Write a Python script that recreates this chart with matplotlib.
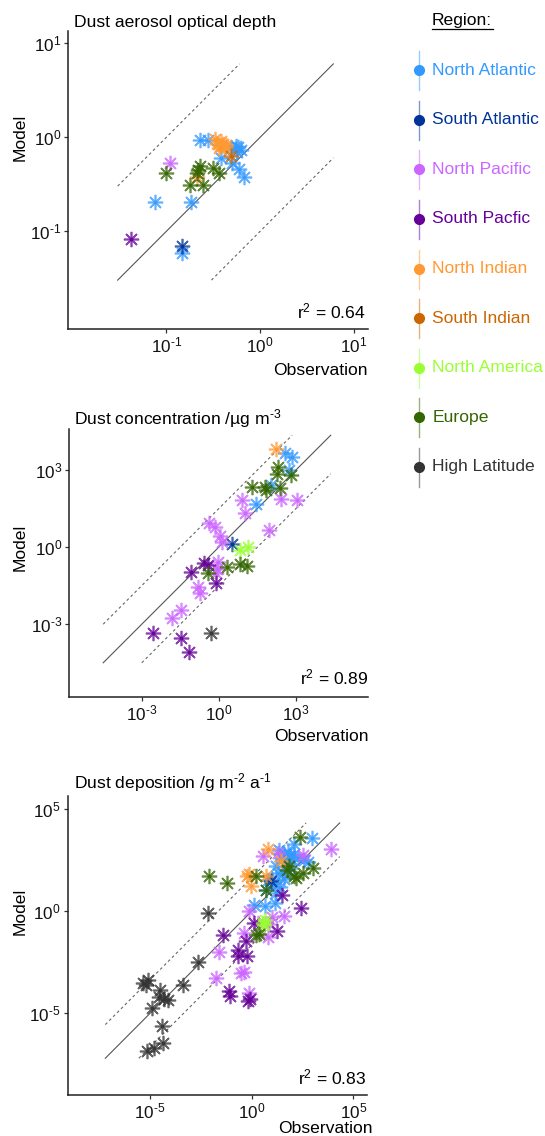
import numpy as np
import matplotlib
matplotlib.use("Agg")
import matplotlib.pyplot as plt

plt.rcParams['font.family'] = ['Liberation Sans', 'DejaVu Sans']
plt.rcParams['mathtext.fontset'] = 'custom'
plt.rcParams['mathtext.rm'] = 'Liberation Sans'
plt.rcParams['mathtext.it'] = 'Liberation Sans:italic'
plt.rcParams['mathtext.default'] = 'regular'

# ---------------- data (log10 of observation / model) ----------------
region_names = ["North Atlantic", "South Atlantic", "North Pacific", "South Pacfic",
                "North Indian", "South Indian", "North America", "Europe", "High Latitude"]
region_colors = ["#3399FF", "#003399", "#CC66FF", "#660099",
                 "#FF9933", "#CC6600", "#99FF33", "#336600", "#333333"]

# Panel 1: dust aerosol optical depth
aod_region = (["North Atlantic"] * 14 + ["South Atlantic"] + ["North Pacific"] + ["South Pacfic"]
              + ["North Indian"] * 9 + ["South Indian"] + ["Europe"] * 8)
aod_obs_log = [-0.83, -1.124, -0.741, -0.641, -0.562, -0.313, -0.262, -0.251, -0.417, -0.297,
               -0.228, -0.176, -0.21, -0.24,
               -0.83, -0.962, -1.383,
               -0.48, -0.45, -0.43, -0.40, -0.38, -0.42, -0.44, -0.36, -0.675,
               -0.31,
               -1.003, -0.641, -0.675, -0.66, -0.504, -0.441, -0.745, -0.607]
aod_mod_log = [-1.234, -0.685, -0.685, -0.031, -0.031, -0.10, -0.09, -0.152, -0.22, -0.272,
               -0.34, -0.427, -0.14, -0.10,
               -1.155, -0.278, -1.087,
               -0.02, -0.07, -0.09, -0.07, -0.10, -0.04, -0.11, -0.08, -0.427,
               -0.20,
               -0.381, -0.306, -0.381, -0.35, -0.324, -0.381, -0.512, -0.512]

# Panel 2: dust concentration
conc_region = (["North Atlantic"] * 5 + ["South Atlantic"] + ["North Pacific"] * 16
               + ["South Pacfic"] * 7 + ["North Indian"] + ["North America"] * 2
               + ["Europe"] * 11 + ["High Latitude"])
conc_obs_log = [2.56, 2.86, 2.72, 2.01, 1.43,
                0.52,
                0.91, 2.43, 3.02, 1.01, 1.95, -0.39, -0.17, 0.04, 0.13, -0.04, -0.13, -0.82,
                -0.74, -1.46, -1.81, -0.06,
                -1.10, -0.58, -0.43, -0.10, -2.55, -1.46, -1.17,
                2.21,
                0.84, 1.13,
                2.30, 2.27, 2.79, 1.30, 1.78, 1.83, 2.37, -0.43, 0.30, 0.81, 1.08,
                -0.32]
conc_mod_log = [3.65, 3.49, 3.00, 2.41, 1.67,
                0.12,
                1.83, 1.86, 1.83, 1.34, 0.66, 0.92, 0.79, 0.43, 0.21, -0.57, -1.02, -1.57,
                -1.78, -2.43, -2.74, -0.85,
                -0.96, -0.63, -0.70, -1.41, -3.36, -3.55, -4.07,
                3.80,
                -0.12, 0.01,
                3.10, 2.84, 2.80, 2.32, 2.32, 2.22, 2.28, -1.02, -0.77, -0.66, -0.74,
                -3.33]

# Panel 3: dust deposition
dep_region = (["North Atlantic"] * 27 + ["South Atlantic"] + ["North Pacific"] * 16
              + ["South Pacfic"] * 13 + ["North Indian"] * 6 + ["North America"] * 3
              + ["Europe"] * 13 + ["High Latitude"] * 15)
dep_obs_log = [1.36, 2.07, 2.96, 1.6, 1.8, 1.9, 2.1, 2.3, 2.59, 2.75, 1.5, 1.7, 1.2, 1.3,
               1.0, 0.79, 1.1, 1.4, 1.6, 1.9, 0.70, 0.13, 0.65, 1.15, 1.2, 1.55, 2.0,
               0.95,
               0.54, 1.31, 2.51, 3.91, -0.12, 1.0, 1.61, 0.79, -0.36, -1.60, -0.53, -0.40,
               -1.76, -0.12, 0.3, 0.85,
               1.48, 2.43, 0.13, 1.23, -1.43, -0.30, -0.69, -0.69, -0.23, -1.10, -1.05,
               -0.2, -0.1,
               0.79, -0.12, -0.22, -0.05, 1.46, 0.72,
               0.54, 0.66, 0.6,
               -2.09, -1.20, 0.21, 0.70, 2.38, 3.0, 2.10, 1.72, 2.18, 1.85, 2.55, 0.21, 0.36,
               -2.17, -2.66, -3.40, -5.37, -5.12, -5.21, -4.50, -4.55, -4.31, -4.14, -4.88,
               -4.43, -4.38, -4.80, -5.16]
dep_mod_log = [3.02, 3.32, 3.6, 2.8, 2.9, 2.7, 2.8, 2.6, 2.53, 2.4, 2.6, 2.4, 2.2, 1.9,
               1.6, 1.55, 1.4, 1.2, 1.6, 2.1, 1.03, 0.30, 0.25, 0.41, 0.9, 1.9, 2.5,
               1.5,
               2.70, 2.86, 2.78, 3.06, 0.0, -0.28, -0.25, -1.25, -1.06, -1.98, -3.02, -2.95,
               -3.27, -4.0, -0.55, -0.6,
               0.82, 0.17, -0.57, -0.95, -1.14, -1.45, -1.88, -2.2, -2.2, -3.92, -4.17,
               -4.41, -4.3,
               3.06, 1.82, 1.75, 1.23, 2.45, 1.75,
               -0.57, -0.45, -0.68,
               1.75, 1.40, 1.74, 1.06, 3.62, 2.13, 1.75, 2.04, 1.64, 2.2, 1.9, -1.14, -1.10,
               -0.08, -2.47, -3.59, -3.51, -3.35, -3.59, -3.84, -4.20, -4.29, -4.33, -4.74,
               -5.64, -6.45, -6.70, -6.86]

r2_values = [0.64, 0.89, 0.83]
panel_titles = ["Dust aerosol optical depth",
                "Dust concentration /\u00b5g m$^{\\text{-3}}$",
                "Dust deposition /g m$^{\\text{-2}}$ a$^{\\text{-1}}$"]
tick_exponents = [[-1, 0, 1], [-3, 0, 3], [-5, 0, 5]]
# 1:1 reference line range (log10) and width of the band (decades)
ref_line_range = [(-1.52, 0.78), (-4.5, 4.35), (-7.2, 4.33)]
band_decades = [1.0, 1.5, 1.65]

# ---------------- layout ----------------
W, H = 545, 1136
fig = plt.figure(figsize=(W / 100, H / 100), dpi=100)

# (left, top, right, bottom) in pixels
boxes = [(68, 31, 368, 329), (69, 429.3, 368, 696.7), (67.7, 796, 366.7, 1095)]
xlims = [(-2.05, 1.15), (-5.83, 5.8), (-9.05, 5.66)]
ylims = [(-2.04, 1.13), (-5.82, 4.58), (-9.0, 5.65)]
title_off = [8, 11, 13.7]
obs_label_pos = [(368, 375), (369, 740.7), (372.7, 1133.3)]   # right edge x, baseline y
r2_pos = [(365.7, 311), (369, 677.3), (366.7, 1077.3)]

datasets = [(aod_obs_log, aod_mod_log, aod_region),
            (conc_obs_log, conc_mod_log, conc_region),
            (dep_obs_log, dep_mod_log, dep_region)]

FS = 12.6
for i in range(3):
    l, t, r, b = boxes[i]
    ax = fig.add_axes([l / W, 1 - b / H, (r - l) / W, (b - t) / H])
    ax.set_xscale('log')
    ax.set_yscale('log')
    ax.set_xlim(10 ** xlims[i][0], 10 ** xlims[i][1])
    ax.set_ylim(10 ** ylims[i][0], 10 ** ylims[i][1])
    for s in ['top', 'right']:
        ax.spines[s].set_visible(False)
    for s in ['left', 'bottom']:
        ax.spines[s].set_linewidth(1.1)
        ax.spines[s].set_color('#222222')
    ticks = [10.0 ** e for e in tick_exponents[i]]
    labels = ['$10^{\\text{%d}}$' % e for e in tick_exponents[i]]
    ax.set_xticks(ticks)
    ax.set_xticklabels(labels)
    ax.set_yticks(ticks)
    ax.set_yticklabels(labels)
    ax.minorticks_off()
    ax.tick_params(axis='both', which='major', length=3, width=0.9, color='#333333',
                   labelsize=12.3, labelcolor='#111111', pad=2)

    # reference lines
    lo, hi = ref_line_range[i]
    d = band_decades[i]
    xs = np.array([lo, hi])
    ax.plot(10 ** xs, 10 ** xs, color='#555555', lw=0.8, zorder=1)
    xu = np.array([lo, hi - d])
    ax.plot(10 ** xu, 10 ** (xu + d), color='#666666', lw=0.8, ls=(0, (2.5, 2.5)), zorder=1)
    xl = np.array([lo + d, hi])
    ax.plot(10 ** xl, 10 ** (xl - d), color='#666666', lw=0.8, ls=(0, (2.5, 2.5)), zorder=1)

    obs, mod, reg = datasets[i]
    obs = np.asarray(obs)
    mod = np.asarray(mod)
    reg = np.asarray(reg)
    for name, col in zip(region_names, region_colors):
        m = reg == name
        if not m.any():
            continue
        xv = 10.0 ** obs[m]
        yv = 10.0 ** mod[m]
        ax.plot(xv, yv, ls='none', marker=(8, 2, 0), ms=11, mew=1.2, mec=col,
                alpha=0.75, zorder=3)
        ax.plot(xv, yv, ls='none', marker='o', ms=2.8, mfc=col, mec='none',
                alpha=0.9, zorder=3)

    # title
    ax.text((74 - l) / (r - l), 1 + title_off[i] / (b - t), panel_titles[i],
            transform=ax.transAxes, ha='left', va='center', fontsize=FS)
    # Model label centred on 10^0
    y0 = (0 - ylims[i][0]) / (ylims[i][1] - ylims[i][0])
    ax.text((20 - l) / (r - l), y0, 'Model', transform=ax.transAxes, rotation=90,
            ha='center', va='center', fontsize=FS)
    # Observation label
    ox, oy = obs_label_pos[i]
    ax.text((ox - l) / (r - l), -(oy - b) / (b - t), 'Observation', transform=ax.transAxes,
            ha='right', va='baseline', fontsize=FS)
    # r^2
    rx, ry = r2_pos[i]
    ax.text((rx - l) / (r - l), (b - ry) / (b - t), 'r$^2$ = %.2f' % r2_values[i],
            transform=ax.transAxes, ha='right', va='center', fontsize=FS)

# ---------------- legend ----------------
lax = fig.add_axes([0, 0, 1, 1], zorder=-1)
lax.set_xlim(0, W)
lax.set_ylim(H, 0)
lax.axis('off')
lax.text(462, 20.7, 'Region:', ha='center', va='center', fontsize=FS)
lax.plot([431.5, 492.5], [29, 29], color='black', lw=0.9)
for k, (name, col) in enumerate(zip(region_names, region_colors)):
    yc = 70.3 + k * 49.55
    lax.plot([419.3, 419.3], [yc - 19, yc + 20], color=col, lw=1.0, alpha=0.5)
    lax.plot([419.3], [yc], ls='none', marker='o', ms=7, color=col)
    lax.text(432.3, yc, name, color=col, ha='left', va='center', fontsize=FS)

fig.savefig('out.png', dpi=100)
